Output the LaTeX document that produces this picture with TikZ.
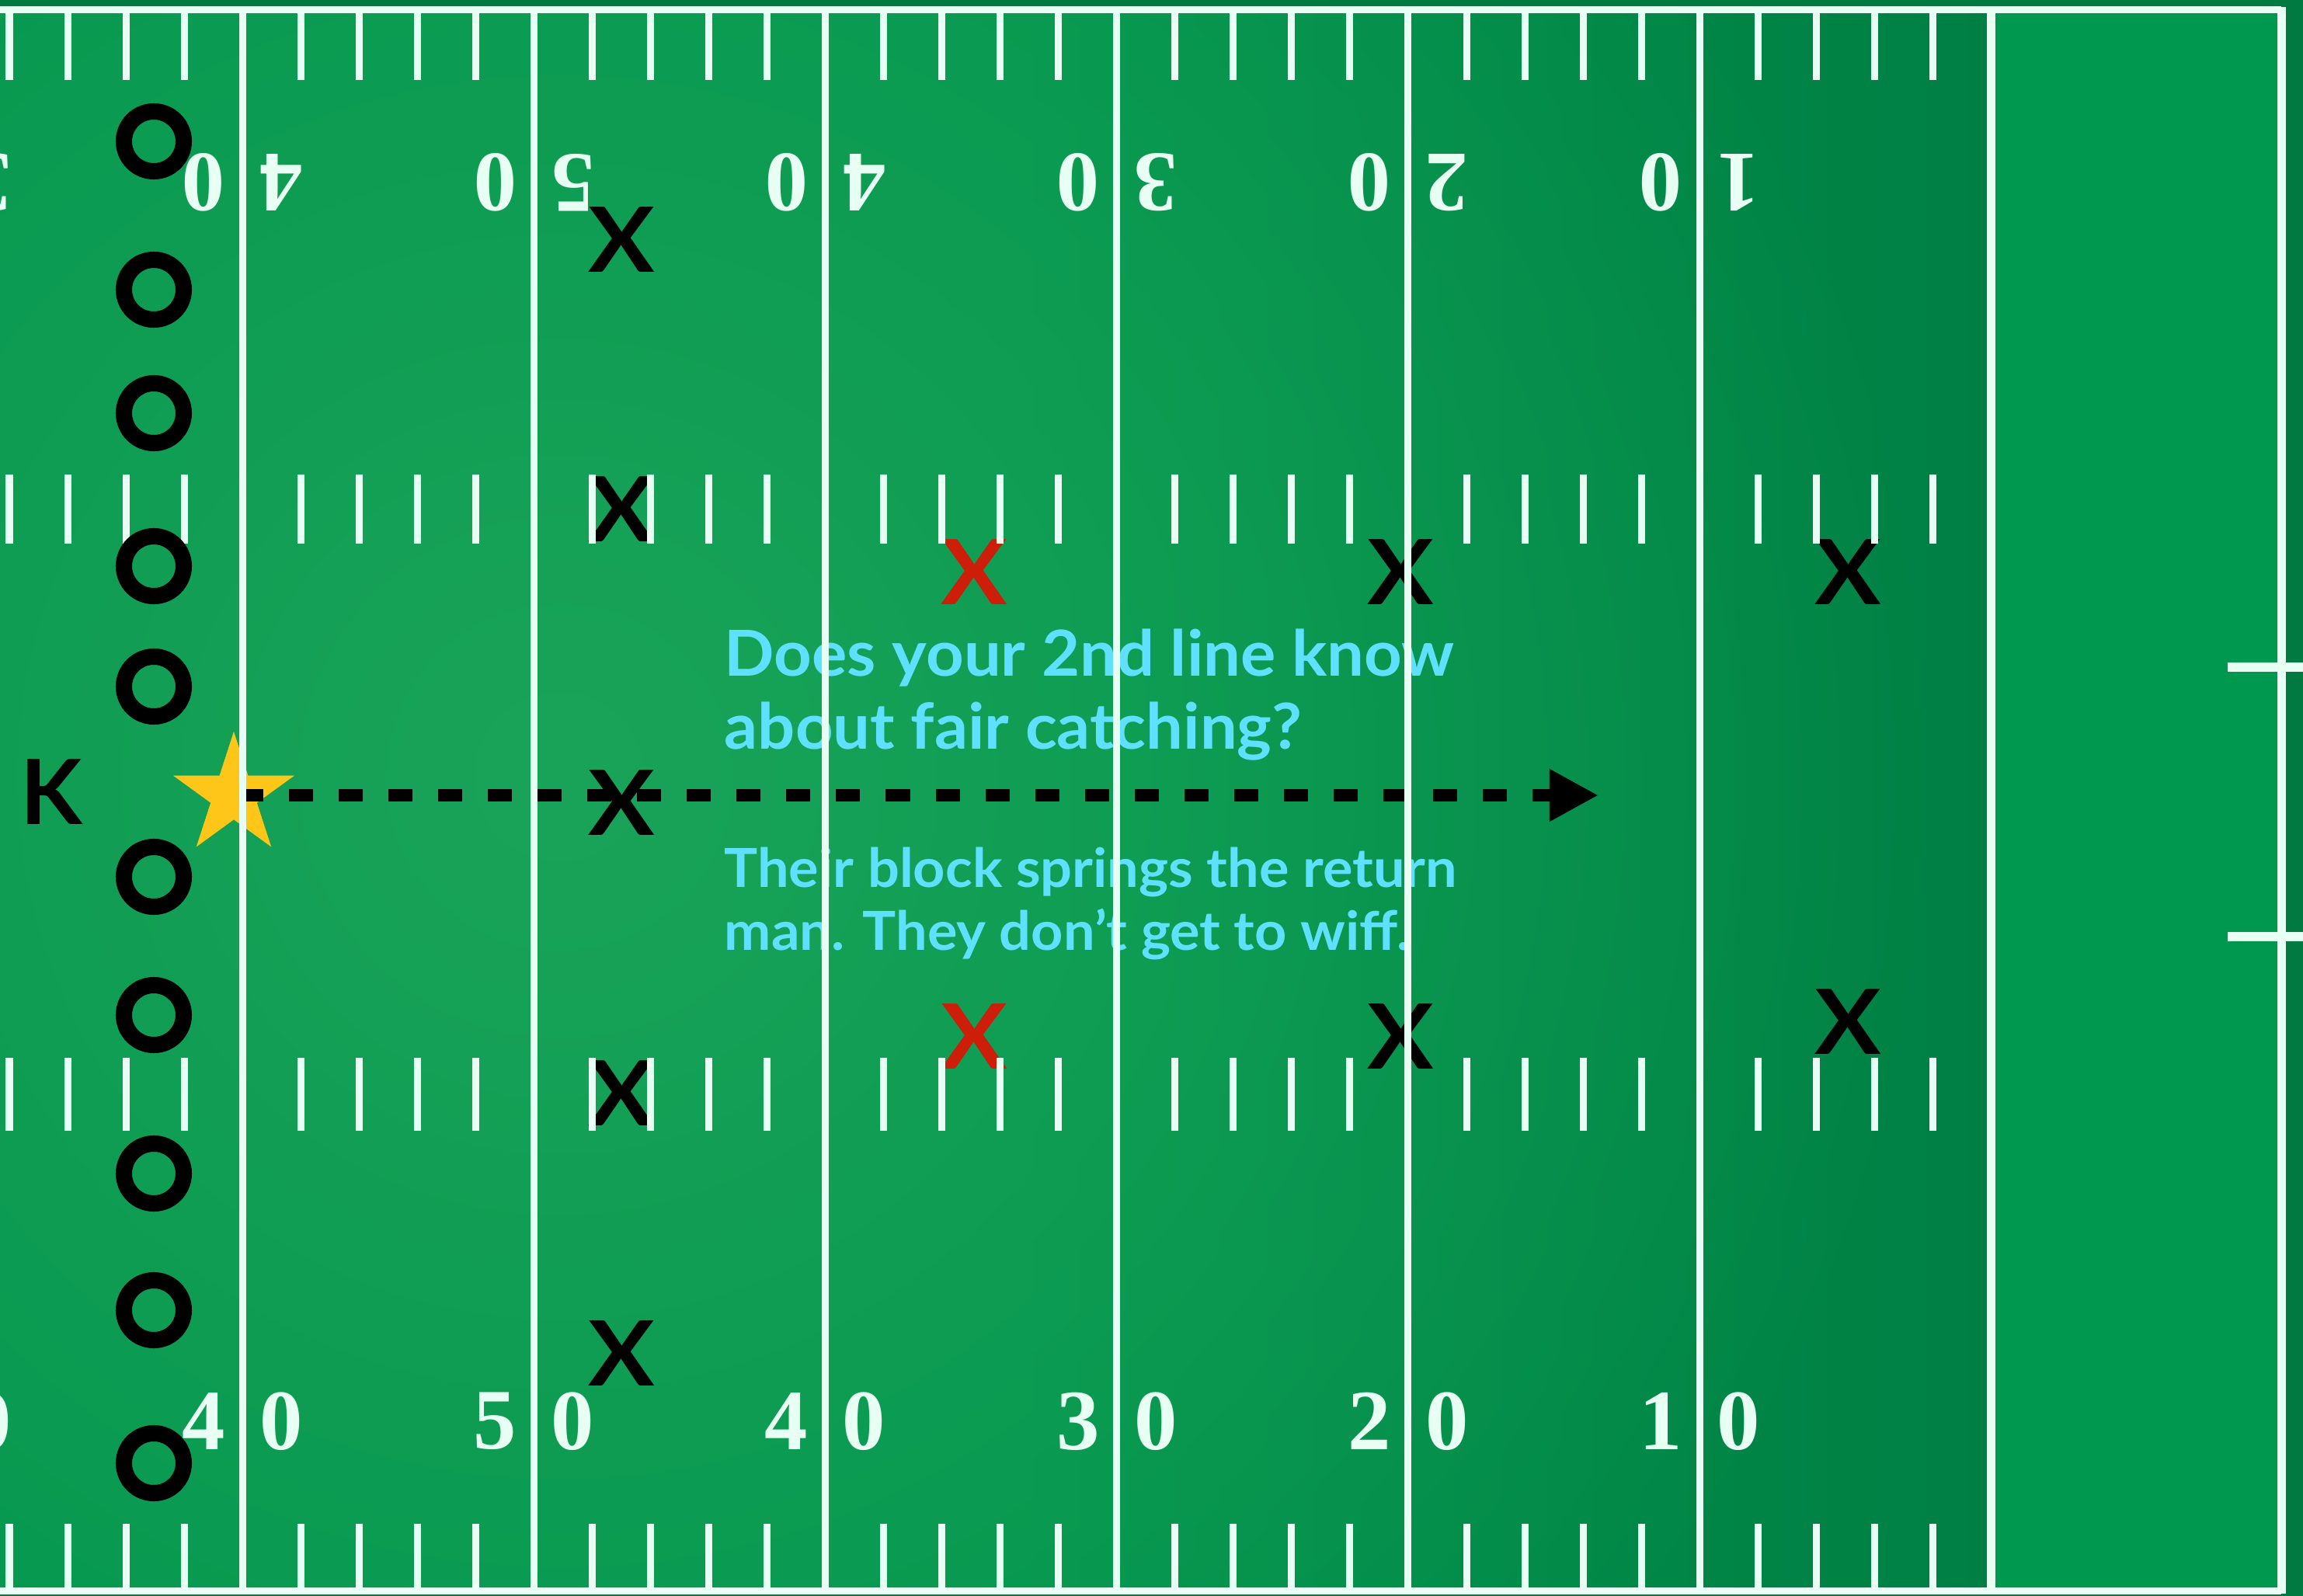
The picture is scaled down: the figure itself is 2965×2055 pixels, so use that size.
\documentclass[tikz,border=0pt]{standalone}
\usepackage{fontspec}
\setmainfont{Lato}
\newfontfamily\numfont{Liberation Serif}
\newfontfamily\txtfont[FakeStretch=1.04]{Lato}
\newfontfamily\kfont{Lato}
\newfontfamily\xfont[FakeStretch=1.1]{Lato}
\usetikzlibrary{arrows.meta,shapes.geometric,fadings}
\definecolor{outergreen}{HTML}{007A40}
\definecolor{fieldgreen}{HTML}{00944C}
\definecolor{lightgreen}{HTML}{1AA459}
\definecolor{darkgreen}{HTML}{007F44}
\definecolor{ezgreen}{HTML}{00984F}
\definecolor{chalk}{HTML}{E8FFF3}
\definecolor{cyantext}{HTML}{5FE0FF}
\definecolor{stargold}{HTML}{FFC61A}
\definecolor{redx}{HTML}{CC1E08}
\tikzfading[name=glow, inner color=transparent!0, outer color=transparent!100]
\begin{document}
\begin{tikzpicture}[x=0.01cm,y=-0.01cm,
  chalkline/.style={draw=chalk, line width=0.09cm},
  tickline/.style={draw=chalk, line width=0.09cm},
  oplayer/.style={circle, draw=black, line width=0.21cm, minimum size=0.77cm, inner sep=0pt},
  xplayer/.style={font=\xfont\bfseries\fontsize{33}{33}\selectfont, text=black, inner sep=0pt},
  redplayer/.style={xplayer, text=redx},
  kicker/.style={font=\kfont\bfseries\fontsize{33}{33}\selectfont, text=black, inner sep=0pt},
  digit/.style={font=\numfont\bfseries\fontsize{31.5}{31.5}\selectfont, text=chalk, inner sep=0pt},
  bigtext/.style={font=\txtfont\bfseries\fontsize{23.2}{27}\selectfont, text=cyantext, inner sep=0pt, anchor=base west},
  smalltext/.style={font=\txtfont\bfseries\fontsize{19.7}{23}\selectfont, text=cyantext, inner sep=0pt, anchor=base west},
  arrowline/.style={draw=black, line width=0.16cm, dash pattern=on 0.31cm off 0.33cm,
    -{Triangle[length=0.63cm,width=0.63cm]}, shorten <=0.07cm}
]
\useasboundingbox (0,0) rectangle (2965,2055);
% ground
\fill[outergreen] (0,0) rectangle (2965,2055);
\begin{scope}
  \clip (0,13) rectangle (2563,2048);
  \fill[fieldgreen] (0,13) rectangle (2563,2048);
  \shade[left color=fieldgreen, right color=darkgreen] (1300,13) rectangle (2563,2048);
  \fill[lightgreen, path fading=glow] (720,1000) circle[radius=18cm];
\end{scope}
\fill[ezgreen] (2563,13) rectangle (2937,2048);

% overlays that sit below the chalk lines
\node[xplayer] (x1) at (800,309) {X};
\node[xplayer] (x2) at (800,656) {X};
\node[xplayer] (x3) at (800,1034) {X};
\node[xplayer] (x4) at (800,1408) {X};
\node[xplayer] (x5) at (800,1743) {X};
\node[redplayer] (r1) at (1254,737) {X};
\node[redplayer] (r2) at (1254,1335) {X};
\node[xplayer] (x6) at (1803,737) {X};
\node[xplayer] (x7) at (1803,1335) {X};
\node[xplayer] (x8) at (2379,737) {X};
\node[xplayer] (x9) at (2379,1316) {X};

\node[bigtext] (q1) at (932,870) {Does your 2nd line know};
\node[bigtext] (q2) at (932,965) {about fair catching?};
\node[smalltext] (a1) at (932,1142) {Their block springs the return};
\node[smalltext] (a2) at (932,1223) {man. They don’t get to wiff.};

\node[star, star points=5, star point ratio=2.618, minimum size=1.64cm, inner sep=0pt, fill=stargold] (ret) at (301,1024) {};
\coordinate (tip) at (2058,1024);
\draw[arrowline] (ret.center) -- (tip);

% chalk lines
\draw[chalkline] (0,13) -- (2937,13);
\draw[chalkline] (0,2048) -- (2937,2048);
\draw[draw=chalk, line width=0.11cm] (2937,9) -- (2937,2052);
\foreach \k in {0,...,5}{
  \draw[chalkline] (312.16+375.2*\k,13) -- (312.16+375.2*\k,2048);
}
\draw[draw=chalk, line width=0.11cm] (2563,13) -- (2563,2048);
\foreach \m in {0,...,33}{
  \pgfmathtruncatemacro\r{mod(\m+1,5)}
  \ifnum\r>0
    \draw[tickline] (12+75.04*\m,13) -- (12+75.04*\m,103);
    \draw[tickline] (12+75.04*\m,611) -- (12+75.04*\m,700);
    \draw[tickline] (12+75.04*\m,1362) -- (12+75.04*\m,1456);
    \draw[tickline] (12+75.04*\m,1962) -- (12+75.04*\m,2048);
  \fi
}
\draw[draw=chalk, line width=0.11cm] (2868,859) -- (2965,859);
\draw[draw=chalk, line width=0.11cm] (2868,1206) -- (2965,1206);

% yard numbers
\foreach \k/\a/\b in {-1/3/0,0/4/0,1/5/0,2/4/0,3/3/0,4/2/0,5/1/0}{
  \node[digit] (bl\k) at (312.16+375.2*\k-50,1830) {\a};
  \node[digit] (br\k) at (312.16+375.2*\k+50,1830) {\b};
  \node[digit, rotate=180] (tl\k) at (312.16+375.2*\k-50,235) {\b};
  \node[digit, rotate=180] (tr\k) at (312.16+375.2*\k+50,235) {\a};
}

% kicking team on top
\foreach \i/\yy in {1/182,2/373,3/532,4/729,5/884,6/1129,7/1307,8/1511,9/1687,10/1884}{
  \node[oplayer] (o\i) at (198,\yy) {};
}
\node[kicker] (k) at (66,1020) {K};
\end{tikzpicture}
\end{document}
